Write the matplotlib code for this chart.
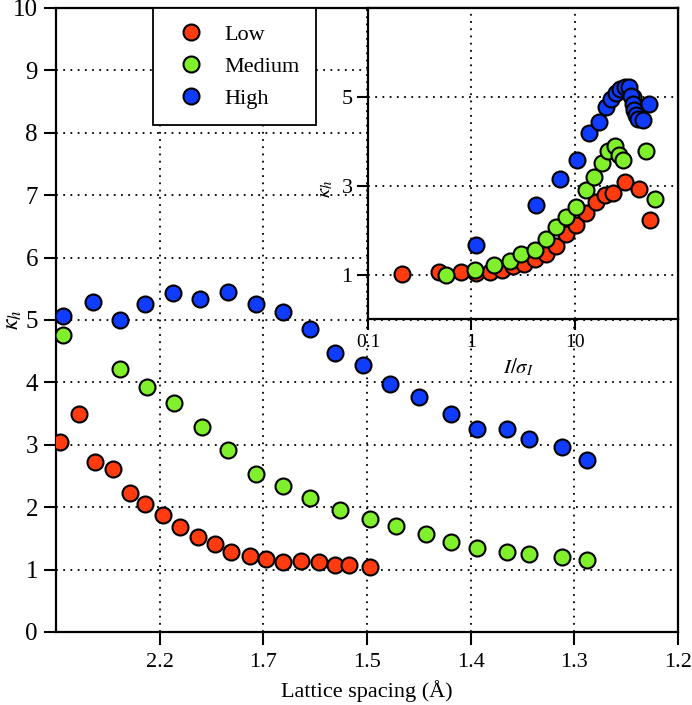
import matplotlib
matplotlib.use("Agg")
import matplotlib.pyplot as plt
import numpy as np

plt.rcParams['font.family'] = ['Liberation Serif', 'DejaVu Serif']
plt.rcParams['mathtext.fontset'] = 'stix'
plt.rcParams['font.size'] = 14

# ---- data: main panel (x = 1/d^3, Å^-3) ----
red_x = [0.004, 0.022, 0.038, 0.055, 0.071, 0.086, 0.103, 0.120, 0.137, 0.153,
         0.169, 0.187, 0.203, 0.219, 0.236, 0.254, 0.269, 0.283, 0.303]
red_y = [3.05, 3.50, 2.73, 2.62, 2.22, 2.05, 1.87, 1.68, 1.53, 1.41,
         1.28, 1.21, 1.17, 1.12, 1.13, 1.12, 1.07, 1.08, 1.04]

green_x = [0.007, 0.062, 0.088, 0.114, 0.141, 0.166, 0.193, 0.219, 0.245, 0.274,
           0.303, 0.328, 0.357, 0.381, 0.406, 0.435, 0.456, 0.488, 0.512]
green_y = [4.76, 4.22, 3.93, 3.67, 3.29, 2.91, 2.54, 2.34, 2.15, 1.96,
           1.81, 1.70, 1.57, 1.45, 1.35, 1.28, 1.25, 1.20, 1.15]

blue_x = [0.007, 0.036, 0.062, 0.086, 0.113, 0.139, 0.166, 0.193, 0.219, 0.245,
          0.269, 0.296, 0.322, 0.350, 0.381, 0.406, 0.435, 0.456, 0.488, 0.512]
blue_y = [5.06, 5.29, 5.00, 5.25, 5.43, 5.33, 5.45, 5.25, 5.13, 4.86,
          4.47, 4.28, 3.98, 3.77, 3.49, 3.26, 3.26, 3.10, 2.96, 2.76]

# ---- data: inset (I/sigma_I vs kappa_h) ----
red_isig = [0.212, 0.489, 0.80, 1.12, 1.53, 2.0, 2.53, 3.24, 4.11, 5.25,
            6.65, 8.31, 10.4, 13.0, 16.0, 19.5, 23.4, 30.4, 41.8, 53.1]
red_ik = [1.02, 1.06, 1.05, 1.04, 1.06, 1.10, 1.19, 1.23, 1.34, 1.47,
          1.64, 1.92, 2.11, 2.39, 2.64, 2.78, 2.84, 3.08, 2.92, 2.23]

green_isig = [0.567, 1.08, 1.65, 2.35, 3.05, 4.11, 5.25, 6.65, 8.31, 10.2,
              12.8, 15.3, 18.5, 21.0, 24.3, 26.8, 29.3, 37.0, 49.3, 59.3]
green_ik = [1.00, 1.10, 1.21, 1.30, 1.46, 1.55, 1.79, 2.06, 2.29, 2.53,
            2.90, 3.19, 3.52, 3.78, 3.89, 3.70, 3.57, 5.00, 3.79, 2.71]

blue_isig = [1.10, 4.2, 7.28, 10.5, 13.8, 17.2, 20.2, 22.6, 24.9, 27.2,
             30.4, 33.5, 34.8, 36.6, 37.2, 38.8, 40.9, 45.7, 52.3]
blue_ik = [1.66, 2.56, 3.14, 3.57, 4.19, 4.44, 4.78, 4.95, 5.09, 5.18,
           5.22, 5.22, 5.03, 4.83, 4.71, 4.60, 4.51, 4.49, 4.83]

series_names = ["Low", "Medium", "High"]
colors = ['#ff3b0f', '#80f02c', '#0f3cff']

main_xticks = [0.1, 0.2, 0.3, 0.4, 0.5, 0.6]
main_xticklabels = ["2.2", "1.7", "1.5", "1.4", "1.3", "1.2"]
main_yticks = list(range(0, 11))
inset_xticks = [0.1, 1, 10, 100]
inset_xticklabels = ["0.1", "1", "10", ""]
inset_yticks = [1, 3, 5]

W, H = 692, 705
fig = plt.figure(figsize=(W / 100, H / 100), dpi=100)

gridkw = dict(color='black', linestyle=(0, (1, 3)), linewidth=1.3)
mk = dict(marker='o', linestyle='none', markersize=11.5, markeredgecolor='black',
          markeredgewidth=1.5)

ax = fig.add_axes([56 / W, 1 - 632 / H, (678 - 56) / W, (632 - 8) / H])
for xs, ys, c, n in zip([red_x, green_x, blue_x], [red_y, green_y, blue_y], colors, series_names):
    ax.plot(xs, ys, color=c, label=n, zorder=3, **mk)
ax.set_xlim(0, 0.6)
ax.set_ylim(0, 10)
ax.set_xticks(main_xticks)
ax.set_xticklabels(main_xticklabels)
ax.set_yticks(main_yticks)
for gx in main_xticks[:-1]:
    ax.axvline(gx, zorder=1, **gridkw)
for gy in main_yticks[1:-1]:
    ax.axhline(gy, zorder=1, **gridkw)
ax.tick_params(direction='out', length=9, width=1.5, pad=5)
ax.tick_params(axis='x', labelsize=16, pad=6)
ax.tick_params(axis='y', labelsize=18, pad=4)
for s in ax.spines.values():
    s.set_linewidth(1.6)
ax.set_xlabel("Lattice spacing (Å)", fontsize=16, labelpad=6)
ax.set_ylabel(r"$\kappa_h$", fontsize=17)
ax.yaxis.set_label_coords(-32 / 622, 0.5)

leg = ax.legend(loc='upper left', bbox_to_anchor=((153 - 56) / 622, 1.0), borderaxespad=0,
                fancybox=False, edgecolor='black', framealpha=1, fontsize=16,
                labelspacing=0.5, handletextpad=0.55, borderpad=0.75,
                handlelength=1.9, numpoints=1)
leg.get_frame().set_linewidth(1.3)

# inset
ins = fig.add_axes([368 / W, 1 - 319 / H, (678 - 368) / W, (319 - 8) / H])
for xs, ys, c in zip([red_isig, green_isig, blue_isig], [red_ik, green_ik, blue_ik], colors):
    ins.plot(xs, ys, color=c, zorder=3, **mk)
ins.set_xscale('log')
ins.set_xlim(0.1, 100)
ins.set_ylim(0, 7)
ins.set_xticks(inset_xticks)
ins.set_xticklabels(inset_xticklabels)
ins.minorticks_off()
ins.set_yticks(inset_yticks)
for gx in [1, 10]:
    ins.axvline(gx, zorder=1, **gridkw)
for gy in inset_yticks:
    ins.axhline(gy, zorder=1, **gridkw)
ins.tick_params(direction='out', length=8, width=1.5, pad=3)
ins.tick_params(axis='x', labelsize=14)
ins.tick_params(axis='y', labelsize=16)
for s in ins.spines.values():
    s.set_linewidth(1.6)
ins.set_xlabel(r"$I/\sigma_I$", fontsize=15)
ins.xaxis.set_label_coords(150 / 310, -38 / 311)
ins.set_ylabel(r"$\kappa_h$", fontsize=15)
ins.yaxis.set_label_coords(-33 / 310, 0.42)

fig.savefig("out.png", dpi=100)
